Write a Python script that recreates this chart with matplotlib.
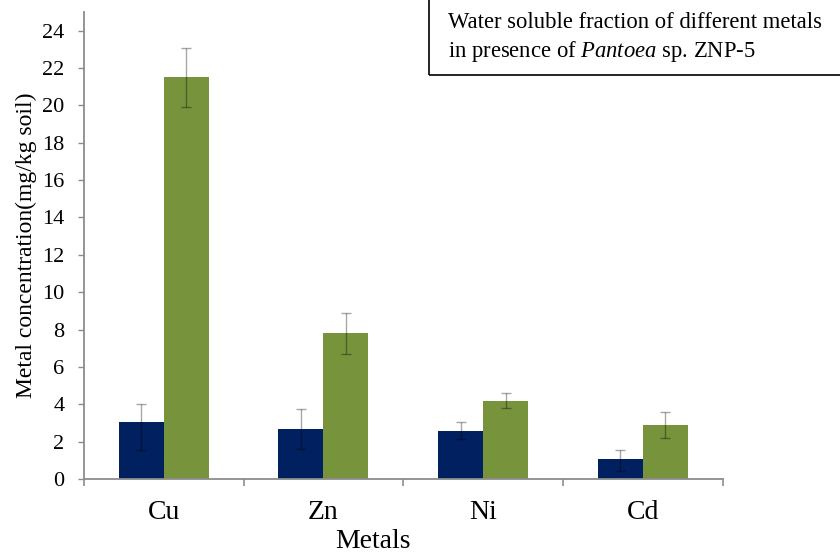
import matplotlib
matplotlib.use("Agg")
import matplotlib.pyplot as plt
import numpy as np
from matplotlib.patches import Rectangle

plt.rcParams['font.family'] = ['Liberation Serif', 'DejaVu Serif']
plt.rcParams['mathtext.fontset'] = 'custom'
plt.rcParams['mathtext.rm'] = 'Liberation Serif'
plt.rcParams['mathtext.it'] = 'Liberation Serif:italic'

metals = ["Cu", "Zn", "Ni", "Cd"]
control = [3.06, 2.69, 2.58, 1.09]
control_err_low = [1.52, 1.10, 0.42, 0.66]
control_err_high = [0.94, 1.07, 0.45, 0.44]
treated = [21.5, 7.79, 4.18, 2.89]
treated_err = [1.58, 1.10, 0.40, 0.67]
yticks = list(range(0, 25, 2))

navy = "#002060"
olive = "#77933C"
spine_grey = "#8C8C8C"

fig = plt.figure(figsize=(8.4, 5.54), dpi=100)
ax = fig.add_axes([84 / 840, 1 - 479 / 554, (722.5 - 84) / 840, (479 - 12) / 554])

x = np.arange(len(metals))
w = 0.282
err_kw = dict(ecolor=(0, 0, 0, 0.35), elinewidth=1.0, capsize=3.8, capthick=1.0)
ax.bar(x - w / 2, control, w, color=navy,
       yerr=[control_err_low, control_err_high], error_kw=err_kw)
ax.bar(x + w / 2, treated, w, color=olive,
       yerr=treated_err, error_kw=err_kw)

ax.set_xlim(-0.5, len(metals) - 0.5)
ax.set_ylim(0, 25)
ax.set_yticks(yticks)
ax.tick_params(axis='y', labelsize=16, length=4, width=1.0, color=spine_grey,
               pad=10, direction='out')

ax.set_xticks(x)
ax.set_xticklabels(metals, fontsize=20)
ax.tick_params(axis='x', length=0, pad=15)
ax.set_xticks(np.arange(-0.5, len(metals), 1.0), minor=True)
ax.tick_params(axis='x', which='minor', length=5, width=1.2, color=spine_grey)

for side in ('top', 'right'):
    ax.spines[side].set_visible(False)
for side in ('left', 'bottom'):
    ax.spines[side].set_color(spine_grey)
    ax.spines[side].set_linewidth(1.3)

fig.text(26 / 840, 1 - 245 / 554, "Metal concentration(mg/kg soil)", fontsize=17,
         rotation=90, ha='center', va='center')
fig.text(373 / 840, 1 - 542 / 554, "Metals", fontsize=20,
         ha='center', va='center')

# caption box in the top right corner
box = Rectangle((429 / 840, 1 - 75 / 554), 0.6, 0.3, transform=fig.transFigure,
                fill=False, edgecolor='black', linewidth=1.2, clip_on=False)
fig.add_artist(box)
fig.text(448 / 840, 1 - 22 / 554, "Water soluble fraction of different metals",
         fontsize=16.3, ha='left', va='center')
fig.text(448 / 840, 1 - 51 / 554, r"in presence of $\it{Pantoea}$ sp. ZNP-5",
         fontsize=16.3, ha='left', va='center')

fig.savefig("out.png", dpi=100)
